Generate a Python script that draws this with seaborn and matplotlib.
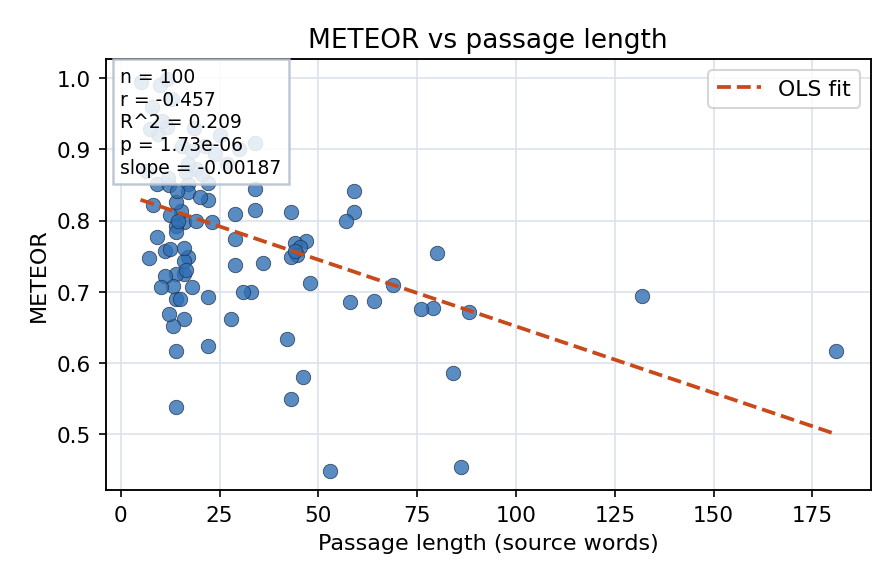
import matplotlib
matplotlib.use("Agg")
import matplotlib.pyplot as plt
import seaborn as sns
import numpy as np
import pandas as pd

# passage length (source words) and METEOR
passage_len = [
    181, 132, 88, 84, 86, 80, 79, 76, 69, 64,
    58, 59, 59, 57, 53, 46, 43, 42, 48, 47,
    43, 44, 45.4, 44.6, 43, 36, 33, 31, 29, 29,
    29, 34, 34, 34, 28, 22, 22, 23, 22, 22,
    18, 17, 16, 16, 16, 16, 16, 15.2, 14, 14,
    14, 14, 13.2, 14, 13.2, 12.2, 11.2, 11.2, 10.1, 9.1,
    7.1, 8.1, 12.4, 14, 14, 9.1, 12.2, 17, 17, 20,
    14.2, 16.5, 19, 5, 9.9, 11.7, 9.4, 11.7, 7.4, 15.5,
    18, 21.3, 23.8, 17, 14.5, 16.5, 12, 20.5, 25, 10.5,
    13, 18.5, 44, 15, 8, 27, 12.5, 19, 6.5, 30,
]
meteor = [
    0.617, 0.694, 0.671, 0.586, 0.454, 0.754, 0.677, 0.676, 0.709, 0.687,
    0.685, 0.841, 0.812, 0.799, 0.449, 0.580, 0.549, 0.633, 0.713, 0.771,
    0.812, 0.768, 0.763, 0.751, 0.749, 0.740, 0.699, 0.699, 0.737, 0.774,
    0.809, 0.815, 0.844, 0.909, 0.662, 0.624, 0.692, 0.798, 0.829, 0.853,
    0.706, 0.749, 0.662, 0.725, 0.743, 0.761, 0.798, 0.813, 0.826, 0.617,
    0.538, 0.690, 0.652, 0.725, 0.708, 0.669, 0.722, 0.757, 0.706, 0.777,
    0.747, 0.822, 0.808, 0.792, 0.784, 0.851, 0.850, 0.851, 0.840, 0.833,
    0.841, 0.868, 0.872, 0.995, 0.990, 0.999, 0.921, 0.931, 0.928, 0.904,
    0.897, 0.904, 0.893, 0.879, 0.800, 0.730, 0.860, 0.865, 0.920, 0.940,
    0.970, 0.930, 0.757, 0.690, 0.960, 0.880, 0.760, 0.800, 0.870, 0.900,
]

# reported fit
fit_slope = -0.00187
fit_intercept = 0.8385
stats_lines = ["n = 100", "r = -0.457", "R^2 = 0.209", "p = 1.73e-06", "slope = -0.00187"]

df = pd.DataFrame({"len": passage_len, "meteor": meteor})

sns.set_style("ticks", {"axes.grid": True, "grid.color": "#dde3ec",
                        "axes.edgecolor": "black", "text.color": "black",
                        "axes.labelcolor": "black", "xtick.color": "black",
                        "ytick.color": "black"})
plt.rcParams["font.family"] = ["DejaVu Sans"]

fig = plt.figure(figsize=(5.973, 3.893), dpi=150)
ax = fig.add_axes([0.118, 0.159, 0.854, 0.738])

sns.scatterplot(data=df, x="len", y="meteor", ax=ax, s=48, color="#2f6fb4",
                alpha=0.8, edgecolor="#1f2f45", linewidth=0.4, zorder=3)

xs = np.array([df["len"].min(), df["len"].max()])
ax.plot(xs, fit_intercept + fit_slope * xs, "--", color="#c8491a", lw=1.8,
        label="OLS fit", zorder=4)

ax.text(0.019, 0.982, "\n".join(stats_lines), transform=ax.transAxes, va="top",
        ha="left", fontsize=9, zorder=5, linespacing=1.25,
        bbox=dict(boxstyle="square,pad=0.4", facecolor="white", alpha=0.85,
                  edgecolor="#b3bfce", linewidth=1.2))

ax.legend(loc="upper right", fontsize=10.5)
ax.set_title("METEOR vs passage length", fontsize=12.7)
ax.set_xlabel("Passage length (source words)", fontsize=10.7)
ax.set_ylabel("METEOR", fontsize=10.7)
ax.tick_params(labelsize=10.3, width=0.8, length=3.5)
ax.grid(True, color="#dde3ec", linewidth=0.8)
for sp in ax.spines.values():
    sp.set_linewidth(0.9)

fig.savefig("out.png", dpi=150)
